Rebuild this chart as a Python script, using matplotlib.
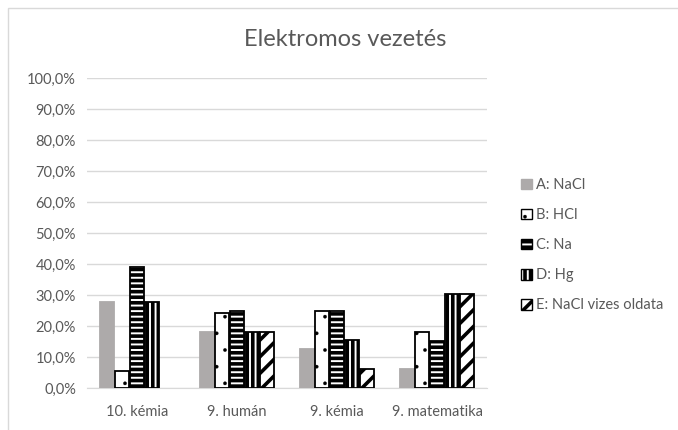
import matplotlib.pyplot as plt
import matplotlib.patches as mpatches
import numpy as np

plt.rcParams['font.family'] = ['Lato', 'DejaVu Sans']

categories = ["10. kémia", "9. humán", "9. kémia", "9. matematika"]
series = ["A: NaCl", "B: HCl", "C: Na", "D: Hg", "E: NaCl vizes oldata"]
vals_A = [27.8, 18.2, 12.5, 6.1]
vals_B = [5.6, 24.2, 25.0, 18.2]
vals_C = [38.9, 24.8, 25.0, 15.2]
vals_D = [27.8, 18.2, 15.6, 30.3]
vals_E = [0.0, 18.2, 6.25, 30.3]
all_vals = [vals_A, vals_B, vals_C, vals_D, vals_E]

text_col = "#595959"
grid_col = "#D9D9D9"

fig = plt.figure(figsize=(6.78, 4.30), dpi=100)
# chart frame
fig.patches.append(mpatches.Rectangle((8 / 678, -0.05), 1.2, 1 - 8 / 430 + 0.05,
                                      transform=fig.transFigure, fill=False,
                                      edgecolor=grid_col, linewidth=1))
ax = fig.add_axes([87 / 678, 42 / 430, 400 / 678, 310 / 430])

ind = np.arange(len(categories))
width = 0.15
styles = [
    dict(color="#ADAAAA", edgecolor="#ADAAAA", hatch=None, hlw=1.0),
    dict(color="white", edgecolor="black", hatch=".", hlw=0.2),
    dict(color="white", edgecolor="black", hatch="---", hlw=2.6),
    dict(color="white", edgecolor="black", hatch="|||", hlw=2.6),
    dict(color="white", edgecolor="black", hatch="//", hlw=2.6),
]


def set_hlw(p, lw):
    if hasattr(p, "set_hatch_linewidth"):
        p.set_hatch_linewidth(lw)


handles = []
for i, (vals, st) in enumerate(zip(all_vals, styles)):
    with plt.rc_context({'hatch.linewidth': st["hlw"]}):
        h = ax.bar(ind + (i - 2) * width, np.array(vals) / 100, width * 0.87,
                   color=st["color"], edgecolor=st["edgecolor"], hatch=st["hatch"],
                   linewidth=1.3, zorder=3)
        proxy = mpatches.Patch(facecolor=st["color"], edgecolor=st["edgecolor"],
                               hatch=st["hatch"], linewidth=1.0)
    set_hlw(proxy, st["hlw"])
    for p in h.patches:
        set_hlw(p, st["hlw"])
        if p.get_height() == 0:
            p.set_visible(False)
    handles.append(proxy)

ax.set_ylim(0, 1.0)
ax.set_xlim(-0.5, 3.5)
ax.set_yticks(np.arange(0, 1.01, 0.1))
ax.set_yticklabels([f"{v:.1f}%".replace(".", ",") for v in np.arange(0, 101, 10)])
ax.set_xticks(ind)
ax.set_xticklabels(categories)
ax.tick_params(length=0, colors=text_col, labelsize=10.5, pad=8)
ax.tick_params(axis="x", pad=12)
ax.grid(axis="y", color=grid_col, linewidth=1, zorder=0)
for s in ["top", "right", "left"]:
    ax.spines[s].set_visible(False)
ax.spines["bottom"].set_color(grid_col)

fig.text(345 / 678, 1 - 40 / 430, "Elektromos vezetés", ha="center", va="center",
         fontsize=17, color=text_col)

with plt.rc_context({'hatch.linewidth': 2.0}):
    leg = fig.legend(handles=handles, labels=series, loc="upper left",
                     bbox_to_anchor=(508 / 678, 1 - 165 / 430), frameon=False,
                     handlelength=0.75, handleheight=0.75, handletextpad=0.3,
                     labelspacing=1.1, fontsize=10.5, labelcolor=text_col)
for p, st in zip(leg.get_patches(), styles):
    set_hlw(p, st["hlw"])

fig.savefig("out.png", dpi=100)
